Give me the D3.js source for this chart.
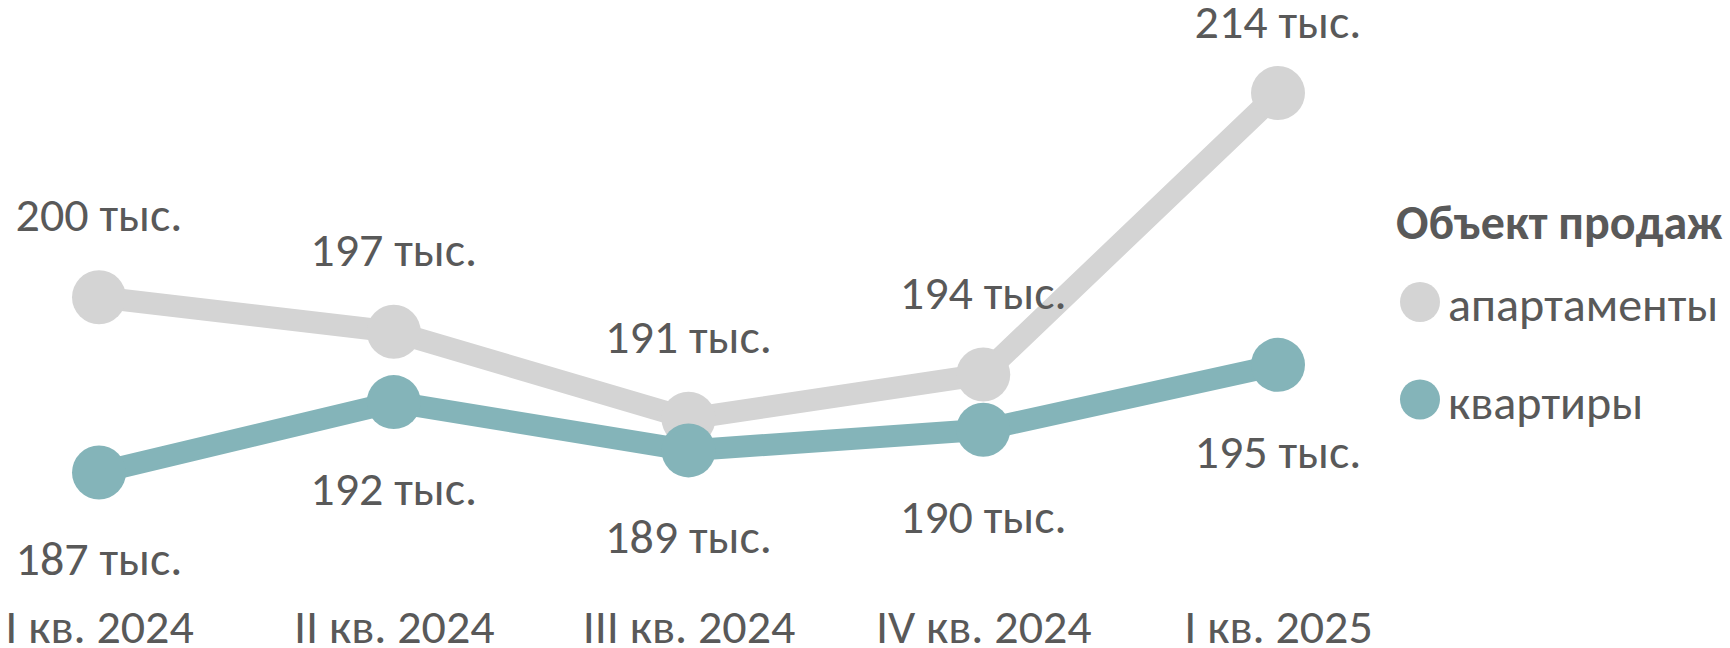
<!DOCTYPE html>
<html>
<head>
<meta charset="utf-8">
<script src="https://cdn.jsdelivr.net/npm/d3@7"></script>
<style>
  html, body { margin: 0; padding: 0; background: #ffffff; }
  svg { display: block; }
  text { font-family: "Carlito", "Calibri", "Open Sans", sans-serif; fill: #595959; }
</style>
</head>
<body>
<script>
// ---- data ----
const categories = ["I кв. 2024", "II кв. 2024", "III кв. 2024", "IV кв. 2024", "I кв. 2025"];
const seriesNames = ["апартаменты", "квартиры"];
const apartments = [199.6, 197.1, 190.8, 194.0, 214.4];
const flats = [186.9, 192.0, 188.5, 190.0, 194.7];
const legendTitle = "Объект продаж";
const unitSuffix = " тыс.";
const colors = ["#d4d4d4", "#84b4b9"];

// ---- layout ----
const W = 1730, H = 648;
const svg = d3.select("body").append("svg").attr("width", W).attr("height", H);
svg.append("rect").attr("width", W).attr("height", H).attr("fill", "#ffffff");

const x = d3.scalePoint().domain(categories).range([99, 1278]).padding(0);
const y = d3.scaleLinear().domain([180, 220]).range([567.7, 15.7]);

const FS = 48;

// x axis (labels only)
const xAxis = d3.axisBottom(x).tickSize(0).tickPadding(0);
const gx = svg.append("g").attr("transform", "translate(0,643)").call(xAxis);
gx.select(".domain").remove();
gx.selectAll("text")
  .attr("dy", 0)
  .attr("y", 0)
  .style("font-size", FS + "px")
  .attr("fill", "#595959");

const series = [
  { name: seriesNames[0], values: apartments, color: colors[0], pos: "above" },
  { name: seriesNames[1], values: flats, color: colors[1], pos: "below" }
];

const line = d3.line().x((d, i) => x(categories[i])).y(d => y(d));
const fmt = d3.format(".0f");

series.forEach(s => {
  const g = svg.append("g");
  g.append("path")
    .datum(s.values)
    .attr("d", line)
    .attr("fill", "none")
    .attr("stroke", s.color)
    .attr("stroke-width", 22)
    .attr("stroke-linejoin", "round");
  g.selectAll("circle")
    .data(s.values)
    .join("circle")
    .attr("cx", (d, i) => x(categories[i]))
    .attr("cy", d => y(d))
    .attr("r", 27)
    .attr("fill", s.color);
});

// data labels
series.forEach(s => {
  svg.append("g").selectAll("text")
    .data(s.values)
    .join("text")
    .attr("x", (d, i) => x(categories[i]))
    .attr("y", d => s.pos === "above" ? Math.max(y(d) - 66, 38) : y(d) + 103)
    .attr("text-anchor", "middle")
    .style("font-size", FS + "px")
    .text(d => fmt(d) + unitSuffix);
});

// legend
const lg = svg.append("g");
lg.append("text")
  .attr("x", 1396).attr("y", 239)
  .style("font-size", FS + "px")
  .style("font-weight", "bold")
  .text(legendTitle);
series.forEach((s, i) => {
  const cy = 302 + i * 97.5;
  lg.append("circle").attr("cx", 1420).attr("cy", cy).attr("r", 20).attr("fill", s.color);
  lg.append("text")
    .attr("x", 1448).attr("y", cy + 19)
    .style("font-size", FS + "px")
    .text(s.name);
});
</script>
</body>
</html>
